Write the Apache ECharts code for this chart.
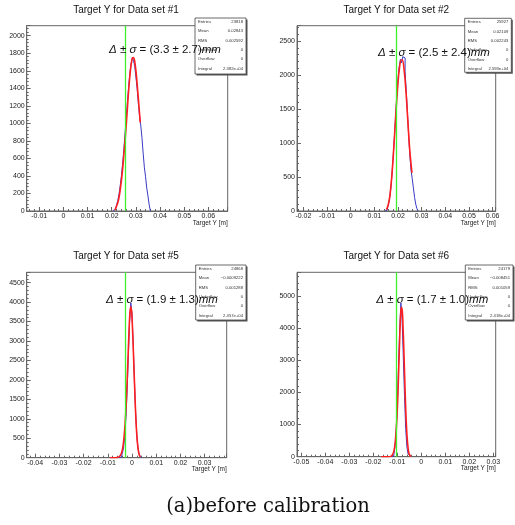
<!DOCTYPE html>
<html>
<head>
<meta charset="utf-8">
<title>Target Y</title>
<script src="https://cdn.jsdelivr.net/npm/echarts@6/dist/echarts.min.js"></script>
<style>html,body{margin:0;background:#fff;}</style>
</head>
<body>
<div id="main" style="width:515px;height:525px;"></div>
<script>
// histogram data, fixed bin width, counts from the first bin edge
var binWidth = 0.0005;

var hist1Start = 0.0205;
var hist1Counts = [5, 15, 35, 70, 120, 190, 290, 400, 540, 700, 880, 1060, 1250, 1420, 1570, 1680,
    1750, 1720, 1650, 1530, 1400, 1230, 1090, 980, 840, 660, 500, 390, 260, 170, 70, 0];
var hist2Start = 0.0145;
var hist2Counts = [0, 15, 45, 100, 200, 350, 560, 820, 1100, 1400, 1690, 1940, 2120, 2230, 2180, 2270,
    2250, 2050, 1760, 1440, 1120, 820, 600, 480, 340, 200, 100, 35, 0];
var hist3Start = -0.0055;
var hist3Counts = [0, 10, 40, 110, 250, 560, 1050, 1750, 2650, 3500, 3980, 3700, 2900, 1950, 1150, 550, 220, 80, 20, 0];
var hist4Start = -0.0125;
var hist4Counts = [0, 20, 80, 300, 760, 1600, 2800, 4000, 4780, 4250, 3100, 1900, 850, 300, 80, 20, 0];

// gaussian fit curves
var fit1X = [0.0213, 0.0220, 0.0228, 0.0236, 0.0244, 0.0252, 0.0260, 0.0268, 0.0276, 0.0284, 0.0290, 0.0298, 0.0306, 0.0314, 0.0318];
var fit1Y = [10, 55, 125, 260, 450, 700, 980, 1300, 1570, 1730, 1750, 1650, 1420, 1150, 1010];
var fit2X = [0.0151, 0.0158, 0.0166, 0.0174, 0.0182, 0.0190, 0.0198, 0.0206, 0.0214, 0.0218, 0.0226, 0.0234, 0.0242, 0.0250, 0.0259];
var fit2Y = [20, 80, 230, 520, 920, 1380, 1800, 2100, 2220, 2220, 2070, 1740, 1300, 880, 560];
var fit3X = [-0.0091, -0.0060, -0.0048, -0.0040, -0.0033, -0.0026, -0.0020, -0.0014, -0.0009, -0.0005, -0.0001, 0.0004, 0.0010, 0.0016, 0.0022, 0.0028, 0.0034];
var fit3Y = [0, 5, 60, 200, 520, 1150, 2000, 3000, 3700, 3880, 3700, 3000, 1950, 1000, 400, 120, 20];
var fit4X = [-0.0167, -0.0140, -0.0125, -0.0115, -0.0108, -0.0101, -0.0095, -0.0090, -0.0085, -0.0081, -0.0076, -0.0071, -0.0066, -0.0060, -0.0054, -0.0048, -0.0042];
var fit4Y = [0, 0, 20, 150, 500, 1300, 2500, 3700, 4550, 4650, 4000, 2900, 1700, 700, 200, 40, 5];

var titles = ['Target Y for Data set #1', 'Target Y for Data set #2', 'Target Y for Data set #5', 'Target Y for Data set #6'];
var deltas = ['3.3', '2.5', '1.9', '1.7'];
var sigmas = ['2.7', '2.4', '1.3', '1.0'];
var greenX = [0.0255, 0.0193, -0.0026, -0.0105];
var xMins = [-0.0152, -0.0227, -0.0435, -0.0518];
var xMaxs = [0.068, 0.0613, 0.0391, 0.031];
var yMaxs = [2114, 2725, 4766, 5736];
var ySteps = [200, 500, 500, 1000];

var statsLabels = ['Entries', 'Mean', 'RMS', 'Underflow', 'Overflow', 'Integral'];
var stats1 = ['23818', '0.02843', '0.002592', '0', '0', '2.382e+04'];
var stats2 = ['25927', '0.02109', '0.002243', '0', '0', '2.593e+04'];
var stats3 = ['24868', '\u22120.0009222', '0.001288', '0', '0', '2.457e+04'];
var stats4 = ['24179', '\u22120.008451', '0.001059', '0', '0', '2.418e+04'];

var histStarts = [hist1Start, hist2Start, hist3Start, hist4Start];
var histCounts = [hist1Counts, hist2Counts, hist3Counts, hist4Counts];
var fitXs = [fit1X, fit2X, fit3X, fit4X];
var fitYs = [fit1Y, fit2Y, fit3Y, fit4Y];
var statsAll = [stats1, stats2, stats3, stats4];

// layout (pixels)
var grids = [
    {left: 26.7, top: 25.7, width: 201, height: 185.3},
    {left: 297, top: 25.7, width: 198.7, height: 185.3},
    {left: 26.7, top: 272.3, width: 200, height: 185.4},
    {left: 297, top: 272.3, width: 198.7, height: 184.4}
];
var titlePos = [[126, 10], [396.3, 10], [126, 256], [396.3, 256]];
var deltaPos = [[109, 50], [378, 52.7], [106, 300], [376.3, 300]];
var boxPos = [[195, 18, 51, 56], [464.7, 18.3, 46.6, 54], [195.7, 265, 50.3, 55], [465.3, 265, 47.7, 55]];

var font = 'Liberation Sans, Arial, Helvetica, sans-serif';
var frameColor = '#666';

function fmtX(v) {
    return String(+v.toFixed(3));
}
function fmtY(v) {
    return String(Math.round(v));
}

var xAxes = [], yAxes = [], series = [], graphics = [];

for (let i = 0; i < 4; i++) {
    xAxes.push({
        type: 'value', gridIndex: i, min: xMins[i], max: xMaxs[i], splitNumber: 8,
        axisLine: {show: true, onZero: false, lineStyle: {color: frameColor, width: 1}},
        axisTick: {show: true, inside: true, length: 4, lineStyle: {color: frameColor}},
        minorTick: {show: true, splitNumber: 5, length: 2, lineStyle: {color: frameColor}},
        splitLine: {show: false},
        axisLabel: {fontSize: 7, color: '#222', fontFamily: font, margin: 2,
            showMinLabel: false, showMaxLabel: false, formatter: fmtX}
    });
    yAxes.push({
        type: 'value', gridIndex: i, min: 0, max: yMaxs[i], interval: ySteps[i],
        axisLine: {show: true, onZero: false, lineStyle: {color: frameColor, width: 1}},
        axisTick: {show: true, inside: true, length: 4, lineStyle: {color: frameColor}},
        minorTick: {show: true, splitNumber: 5, length: 2, lineStyle: {color: frameColor}},
        splitLine: {show: false},
        axisLabel: {fontSize: 7, color: '#222', fontFamily: font, margin: 2, showMaxLabel: false, formatter: fmtY}
    });

    // histogram outline as steps
    let pts = [];
    histCounts[i].forEach(function (c, k) {
        pts.push([histStarts[i] + k * binWidth, c]);
    });
    series.push({
        type: 'line', xAxisIndex: i, yAxisIndex: i, data: pts, step: 'end',
        symbol: 'none', silent: true, z: 2,
        lineStyle: {color: '#3a3ac4', width: 1}
    });

    let fit = fitXs[i].map(function (x, k) { return [x, fitYs[i][k]]; });
    series.push({
        type: 'line', xAxisIndex: i, yAxisIndex: i, data: fit, smooth: 0.4,
        symbol: 'none', silent: true, z: 3,
        lineStyle: {color: '#ff1f1f', width: 1.6},
        markLine: {
            silent: true, symbol: 'none', label: {show: false}, precision: 6,
            lineStyle: {color: '#3df22a', width: 1.3, type: 'solid', opacity: 1},
            data: [{xAxis: greenX[i]}]
        }
    });

    // title
    graphics.push({
        type: 'text', x: titlePos[i][0], y: titlePos[i][1], z: 10,
        style: {text: titles[i], fontSize: 10, fontFamily: font, fill: '#111', align: 'center', verticalAlign: 'middle'}
    });
    // x axis name
    graphics.push({
        type: 'text', x: grids[i].left + grids[i].width, y: grids[i].top + grids[i].height + 12, z: 10,
        style: {text: 'Target Y [m]', fontSize: 6.5, fontFamily: font, fill: '#222', align: 'right', verticalAlign: 'middle'}
    });

    // stats box
    let b = boxPos[i];
    graphics.push({
        type: 'rect', z: 20, shape: {x: b[0] + 1.5, y: b[1] + 1.5, width: b[2], height: b[3]},
        style: {fill: '#555'}
    });
    graphics.push({
        type: 'rect', z: 21, shape: {x: b[0], y: b[1], width: b[2], height: b[3]},
        style: {fill: '#fff', stroke: '#444', lineWidth: 0.8}
    });
    statsLabels.forEach(function (lab, k) {
        let yy = b[1] + 4 + k * 9.3;
        graphics.push({
            type: 'text', x: b[0] + 3, y: yy, z: 22,
            style: {text: lab, fontSize: 4.2, fontFamily: font, fill: '#333', align: 'left', verticalAlign: 'middle'}
        });
        graphics.push({
            type: 'text', x: b[0] + b[2] - 3, y: yy, z: 22,
            style: {text: statsAll[i][k], fontSize: 4.2, fontFamily: font, fill: '#333', align: 'right', verticalAlign: 'middle'}
        });
    });

    // fit result text
    graphics.push({
        type: 'text', x: deltaPos[i][0], y: deltaPos[i][1], z: 30,
        style: {
            text: '{i|\u0394} \u00b1 {i|\u03c3} = (' + deltas[i] + ' \u00b1 ' + sigmas[i] + '){i|mm}',
            fontSize: 11.5, fontFamily: font, fill: '#111', align: 'left', verticalAlign: 'middle',
            rich: {i: {fontStyle: 'italic', fontSize: 11.5, fontFamily: font, fill: '#111'}}
        }
    });
}

graphics.push({
    type: 'text', x: 268, y: 507, z: 10,
    style: {text: '(a)before calibration', fontSize: 19.5, fontFamily: 'DejaVu Serif, Liberation Serif, serif',
        fill: '#111', align: 'center', verticalAlign: 'middle'}
});

var myChart = echarts.init(document.getElementById('main'));
myChart.setOption({
    animation: false,
    backgroundColor: '#fff',
    grid: grids.map(function (g) {
        return {left: g.left, top: g.top, width: g.width, height: g.height, show: true,
            borderColor: frameColor, borderWidth: 1, backgroundColor: 'transparent'};
    }),
    xAxis: xAxes,
    yAxis: yAxes,
    series: series,
    graphic: graphics
});
</script>
</body>
</html>
